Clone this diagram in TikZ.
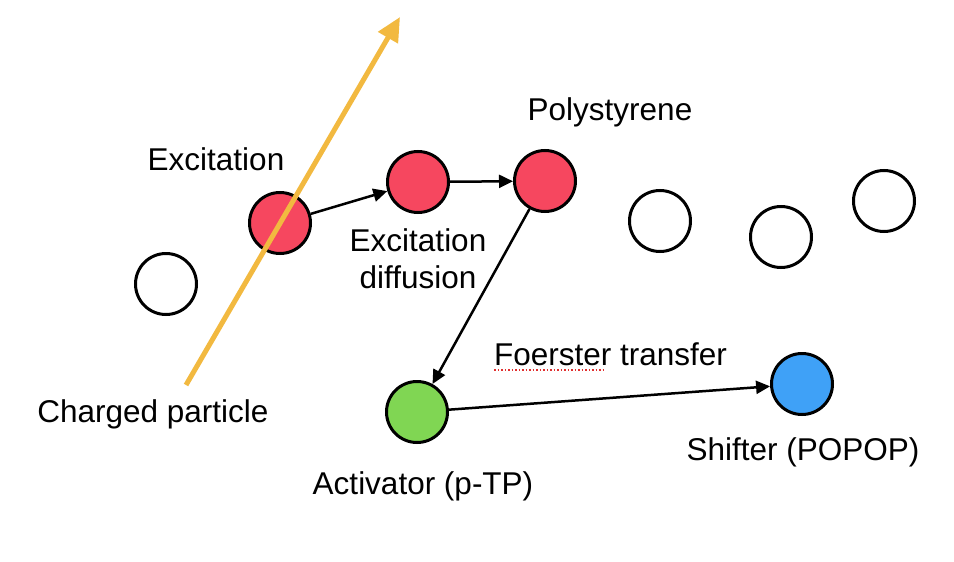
\documentclass[tikz,border=0pt]{standalone}
\usepackage{fontspec}
\setmainfont{Liberation Sans}
\usetikzlibrary{arrows.meta,calc}
\definecolor{pred}{HTML}{F6475F}
\definecolor{pgreen}{HTML}{80D653}
\definecolor{pblue}{HTML}{3FA1F7}
\definecolor{porange}{HTML}{F2B940}
\definecolor{spell}{HTML}{E03030}
\tikzset{
  mol/.style={circle,draw=black,line width=3pt,minimum size=61pt,inner sep=0pt},
  lbl/.style={font=\fontsize{31.5}{37}\selectfont,inner sep=0pt,align=center},
  link/.style={line width=2.5pt,-{Triangle[length=14pt,width=13pt]}},
}
\begin{document}
\begin{tikzpicture}[x=1pt,y=-1pt]
\useasboundingbox (0,0) rectangle (954,562);
\node[mol,fill=white] (w1) at (166,284) {};
\node[mol,fill=pred] (r1) at (280,223) {};
\node[mol,fill=pred] (r2) at (418,182) {};
\node[mol,fill=pred] (r3) at (545,181) {};
\node[mol,fill=white] (w2) at (660,221) {};
\node[mol,fill=white] (w3) at (781,237) {};
\node[mol,fill=white] (w4) at (884,201) {};
\node[mol,fill=pgreen] (g) at (417,412) {};
\node[mol,fill=pblue] (b) at (802,384) {};

\coordinate (ps) at (186,385);
\coordinate (pe) at (400,17);
\draw[porange,line width=5pt,-{Triangle[length=24pt,width=22pt]}] (ps) -- (pe);

\draw[link] (r1) -- (r2);
\draw[link] (r2) -- (r3);
\draw[link] (r3) -- (g);
\draw[link] (g) -- (b);

\node[lbl] (t1) at (216,159) {Excitation};
\node[lbl] (t2) at (610,112) {Polystyrene};
\node[lbl] (t3) at (418,259) {Excitation\\diffusion};
\node[lbl,anchor=base west] (t4) at (494,365) {Foerster transfer};
\draw[spell,line width=1.5pt,dotted] ($(t4.base west)+(0,5)$) -- ++(112,0);
\node[lbl] (t5) at (153,414) {Charged particle};
\node[lbl] (t6) at (423,486) {Activator (p-TP)};
\node[lbl] (t7) at (803,452) {Shifter (POPOP)};
\end{tikzpicture}
\end{document}
